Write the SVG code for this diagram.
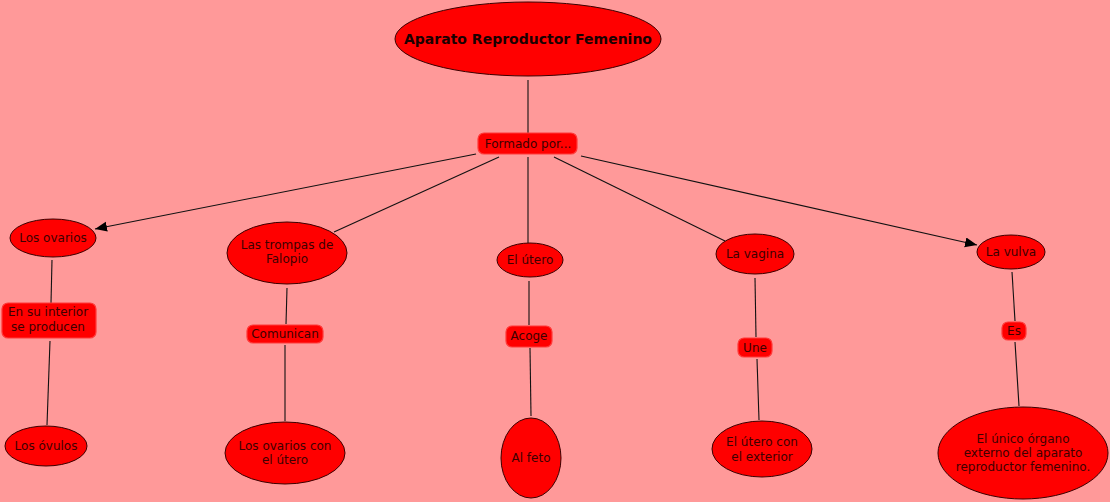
<svg xmlns="http://www.w3.org/2000/svg" width="1110" height="502" viewBox="0 0 1110 502">
<style>
.bg{fill:#ff9999}
.node ellipse{fill:#ff0000;stroke:#3a0000;stroke-width:1}
.lbl rect{fill:#ff0000;stroke:#ff3a3a;stroke-width:1.2}
text{font-family:"DejaVu Sans",Verdana,sans-serif;font-size:12px;fill:#3d0000;text-anchor:middle}
.title{font-size:14px;font-weight:bold;fill:#1a0000}
.conn line{stroke:#111;stroke-width:1.1;fill:none}
</style>
<defs>
<marker id="arr" markerUnits="userSpaceOnUse" markerWidth="13" markerHeight="11" refX="12" refY="5" orient="auto">
<path d="M0,0 L12,5 L0,10 z" fill="#000"/>
</marker>
</defs>
<rect class="bg" x="0" y="0" width="1110" height="502"/>
<g id="connectors" class="conn">
<line x1="528" y1="80" x2="528" y2="133"/>
<line x1="476" y1="154" x2="95" y2="229" marker-end="url(#arr)"/>
<line x1="499" y1="157" x2="334" y2="232"/>
<line x1="528" y1="157" x2="528" y2="243"/>
<line x1="554" y1="157" x2="725" y2="241"/>
<line x1="581" y1="156" x2="977" y2="245" marker-end="url(#arr)"/>
<line x1="52" y1="260" x2="51" y2="303"/>
<line x1="50" y1="341" x2="47" y2="425"/>
<line x1="287" y1="288" x2="286" y2="324"/>
<line x1="285" y1="345" x2="285" y2="421"/>
<line x1="529" y1="281" x2="529" y2="325"/>
<line x1="530" y1="348" x2="531" y2="416"/>
<line x1="755" y1="278" x2="756" y2="337"/>
<line x1="757" y1="359" x2="759" y2="420"/>
<line x1="1012" y1="272" x2="1015" y2="321"/>
<line x1="1015" y1="342" x2="1019" y2="406"/>
</g>
<g id="n-title" class="node">
<ellipse cx="528" cy="39" rx="133" ry="37"/>
<text class="title" x="528" y="44">Aparato Reproductor Femenino</text>
</g>
<g id="l-formado" class="lbl">
<rect x="478" y="133" width="99" height="21" rx="6"/>
<text x="528" y="148">Formado por...</text>
</g>
<g id="n-ovarios" class="node">
<ellipse cx="53" cy="238" rx="43" ry="19"/>
<text x="53" y="242">Los ovarios</text>
</g>
<g id="n-trompas" class="node">
<ellipse cx="287" cy="253" rx="60" ry="31"/>
<text x="287" y="249">Las trompas de</text>
<text x="287" y="263">Falopio</text>
</g>
<g id="n-utero" class="node">
<ellipse cx="530" cy="260" rx="33" ry="17"/>
<text x="530" y="264">El útero</text>
</g>
<g id="n-vagina" class="node">
<ellipse cx="755" cy="254" rx="39" ry="20"/>
<text x="755" y="258">La vagina</text>
</g>
<g id="n-vulva" class="node">
<ellipse cx="1011" cy="252" rx="34" ry="17"/>
<text x="1011" y="256">La vulva</text>
</g>
<g id="l-interior" class="lbl">
<rect x="2" y="303" width="94" height="35" rx="6"/>
<text x="48" y="316">En su interior</text>
<text x="48" y="331">se producen</text>
</g>
<g id="l-comunican" class="lbl">
<rect x="247" y="325" width="76" height="18" rx="6"/>
<text x="285" y="338">Comunican</text>
</g>
<g id="l-acoge" class="lbl">
<rect x="506" y="326" width="46" height="21" rx="6"/>
<text x="529" y="340">Acoge</text>
</g>
<g id="l-une" class="lbl">
<rect x="738" y="338" width="34" height="19" rx="6"/>
<text x="755" y="352">Une</text>
</g>
<g id="l-es" class="lbl">
<rect x="1002" y="322" width="24" height="18" rx="6"/>
<text x="1014" y="335">Es</text>
</g>
<g id="n-ovulos" class="node">
<ellipse cx="46" cy="446" rx="41" ry="20"/>
<text x="46" y="450">Los óvulos</text>
</g>
<g id="n-ovarios-utero" class="node">
<ellipse cx="285" cy="453" rx="60" ry="31"/>
<text x="285" y="450">Los ovarios con</text>
<text x="285" y="464">el útero</text>
</g>
<g id="n-feto" class="node">
<ellipse cx="531" cy="458" rx="30" ry="40"/>
<text x="531" y="462">Al feto</text>
</g>
<g id="n-exterior" class="node">
<ellipse cx="762" cy="449" rx="50" ry="28"/>
<text x="762" y="446">El útero con</text>
<text x="762" y="461">el exterior</text>
</g>
<g id="n-unico" class="node">
<ellipse cx="1023" cy="453" rx="85" ry="46"/>
<text x="1023" y="443">El único órgano</text>
<text x="1023" y="457">externo del aparato</text>
<text x="1023" y="471">reproductor femenino.</text>
</g>
</svg>
